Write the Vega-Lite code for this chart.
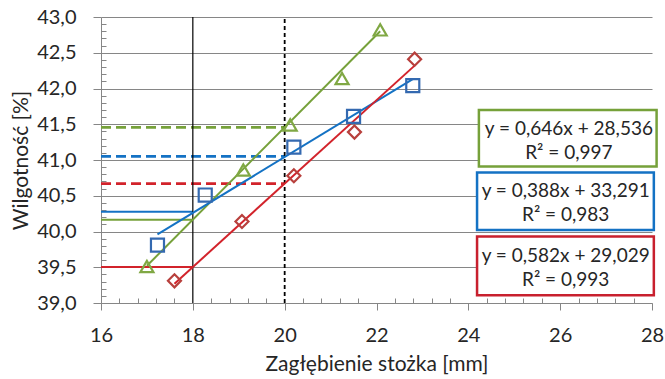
{
  "$schema": "https://vega.github.io/schema/vega-lite/v6.json",
  "width": 551,
  "height": 286,
  "autosize": "none",
  "padding": {"left": 101, "top": 17, "right": 13, "bottom": 76},
  "background": "white",
  "config": {"view": {"stroke": null}, "font": "Lato"},
  "datasets": {
    "hs": [
      {"s": "g", "x": 16, "x2": 18, "y": 40.164},
      {"s": "b", "x": 16, "x2": 18, "y": 40.275},
      {"s": "r", "x": 16, "x2": 18, "y": 39.505}
    ],
    "hd": [
      {"s": "g", "x": 16, "x2": 20, "y": 41.456},
      {"s": "b", "x": 16, "x2": 20, "y": 41.051},
      {"s": "r", "x": 16, "x2": 20, "y": 40.669}
    ],
    "vs": [{"x": 18, "y": 39, "y2": 43}],
    "vd": [{"x": 20, "y": 39, "y2": 43}],
    "tr": [
      {"s": "g", "x": 17.0, "y": 39.52, "x2": 22.08, "y2": 42.80},
      {"s": "b", "x": 17.23, "y": 39.96, "x2": 22.79, "y2": 42.13},
      {"s": "r", "x": 17.6, "y": 39.27, "x2": 22.83, "y2": 42.32}
    ],
    "pts": [
      {"s": "mg", "x": 17.0, "y": 39.51},
      {"s": "mg", "x": 19.1, "y": 40.86},
      {"s": "mg", "x": 20.12, "y": 41.49},
      {"s": "mg", "x": 21.25, "y": 42.14},
      {"s": "mg", "x": 22.08, "y": 42.82},
      {"s": "mb", "x": 17.23, "y": 39.81},
      {"s": "mb", "x": 18.27, "y": 40.51},
      {"s": "mb", "x": 20.2, "y": 41.18},
      {"s": "mb", "x": 21.5, "y": 41.61},
      {"s": "mb", "x": 22.79, "y": 42.04},
      {"s": "mr", "x": 17.6, "y": 39.31},
      {"s": "mr", "x": 19.07, "y": 40.14},
      {"s": "mr", "x": 20.2, "y": 40.78},
      {"s": "mr", "x": 21.52, "y": 41.39},
      {"s": "mr", "x": 22.83, "y": 42.41}
    ],
    "bx": [
      {"s": "g", "x": 24.23, "x2": 28.1, "y": 41.70, "y2": 40.91},
      {"s": "b", "x": 24.19, "x2": 28.04, "y": 40.825, "y2": 40.02},
      {"s": "r", "x": 24.19, "x2": 28.04, "y": 39.93, "y2": 39.11}
    ],
    "tx": [
      {"x": 26.19, "y": 41.44, "t": "y = 0,646x + 28,536"},
      {"x": 26.19, "y": 41.10, "t": "R² = 0,997"},
      {"x": 26.12, "y": 40.56, "t": "y = 0,388x + 33,291"},
      {"x": 26.12, "y": 40.23, "t": "R² = 0,983"},
      {"x": 26.12, "y": 39.66, "t": "y = 0,582x + 29,029"},
      {"x": 26.12, "y": 39.32, "t": "R² = 0,993"}
    ]
  },
  "encoding": {
    "x": {
      "field": "x", "type": "quantitative",
      "scale": {"domain": [16, 28], "nice": false, "zero": false},
      "axis": {
        "title": "Zagłębienie stożka [mm]",
        "titleFont": "Lato",
        "titleFontSize": 21,
        "titleFontWeight": "normal",
        "titleColor": "#262626",
        "titlePadding": 8,
        "labelFont": "Lato",
        "labelFontSize": 20,
        "labelColor": "#262626",
        "labelPadding": 15,
        "labelOverlap": false,
        "labelFlush": false,
        "grid": false,
        "ticks": true,
        "tickColor": "#868686",
        "tickWidth": 1,
        "domainColor": "#868686",
        "tickSize": {"condition": {"test": "abs(datum.value/2-round(datum.value/2))<0.01", "value": 7}, "value": -5},
        "values": [16,16.4,16.8,17.2,17.6,18,18.4,18.8,19.2,19.6,20,20.4,20.8,21.2,21.6,22,22.4,22.8,23.2,23.6,24,24.4,24.8,25.2,25.6,26,26.4,26.8,27.2,27.6,28],
        "labelExpr": "abs(datum.value/2-round(datum.value/2))<0.01 ? format(datum.value,'d') : ''"
      }
    },
    "y": {
      "field": "y", "type": "quantitative",
      "scale": {"domain": [39, 43], "nice": false, "zero": false},
      "axis": {
        "title": "Wilgotność [%]",
        "titleFont": "Lato",
        "titleFontSize": 21,
        "titleFontWeight": "normal",
        "titleColor": "#262626",
        "titlePadding": 5,
        "labelFont": "Lato",
        "labelFontSize": 20,
        "labelColor": "#262626",
        "labelPadding": 17,
        "labelOverlap": false,
        "labelFlush": false,
        "ticks": true,
        "tickColor": "#868686",
        "tickWidth": 1,
        "domainColor": "#868686",
        "gridColor": "#868686",
        "gridWidth": 1,
        "tickSize": {"condition": {"test": "abs(datum.value*2-round(datum.value*2))<0.01", "value": 8}, "value": -5},
        "gridOpacity": {"condition": {"test": "abs(datum.value*2-round(datum.value*2))<0.01", "value": 1}, "value": 0},
        "values": [39,39.1,39.2,39.3,39.4,39.5,39.6,39.7,39.8,39.9,40,40.1,40.2,40.3,40.4,40.5,40.6,40.7,40.8,40.9,41,41.1,41.2,41.3,41.4,41.5,41.6,41.7,41.8,41.9,42,42.1,42.2,42.3,42.4,42.5,42.6,42.7,42.8,42.9,43],
        "labelExpr": "abs(datum.value*2-round(datum.value*2))<0.01 ? replace(format(datum.value,'.1f'),'.',',') : ''"
      }
    }
  },
  "layer": [
    {
      "data": {"name": "hs"},
      "mark": {"type": "rule", "strokeWidth": 2},
      "encoding": {
        "x2": {"field": "x2"},
        "color": {
          "field": "s", "type": "nominal", "legend": null,
          "scale": {
            "domain": ["g", "b", "r", "mg", "mb", "mr"],
            "range": ["#76A13A", "#1472C4", "#D2232B", "#80A844", "#3469B0", "#B8403D"]
          }
        }
      }
    },
    {
      "data": {"name": "hd"},
      "mark": {"type": "rule", "strokeWidth": 2.8, "strokeDash": [10, 5]},
      "encoding": {
        "x2": {"field": "x2"},
        "color": {"field": "s", "type": "nominal", "legend": null}
      }
    },
    {
      "data": {"name": "vs"},
      "mark": {"type": "rule", "strokeWidth": 1.2, "color": "#000000"},
      "encoding": {"y2": {"field": "y2"}}
    },
    {
      "data": {"name": "vd"},
      "mark": {"type": "rule", "strokeWidth": 1.8, "strokeDash": [4, 3], "color": "#000000"},
      "encoding": {"y2": {"field": "y2"}}
    },
    {
      "data": {"name": "tr"},
      "mark": {"type": "rule", "strokeWidth": 2},
      "encoding": {
        "x2": {"field": "x2"},
        "y2": {"field": "y2"},
        "color": {"field": "s", "type": "nominal", "legend": null}
      }
    },
    {
      "data": {"name": "pts"},
      "mark": {"type": "point", "filled": false, "strokeWidth": 2.2, "size": 170, "opacity": 1},
      "encoding": {
        "color": {"field": "s", "type": "nominal", "legend": null},
        "shape": {
          "field": "s", "type": "nominal", "legend": null,
          "scale": {"domain": ["mg", "mb", "mr"], "range": ["triangle-up", "square", "diamond"]}
        }
      }
    },
    {
      "data": {"name": "bx"},
      "mark": {"type": "rect", "fill": "white", "strokeWidth": 2.5, "fillOpacity": 1},
      "encoding": {
        "x2": {"field": "x2"},
        "y2": {"field": "y2"},
        "stroke": {"field": "s", "type": "nominal", "legend": null,
          "scale": {"domain": ["g", "b", "r"], "range": ["#76A13A", "#1472C4", "#C8202E"]}}
      }
    },
    {
      "data": {"name": "tx"},
      "mark": {"type": "text", "fontSize": 19, "font": "Lato", "color": "#262626", "align": "center", "baseline": "middle"},
      "encoding": {"text": {"field": "t"}}
    }
  ]
}
